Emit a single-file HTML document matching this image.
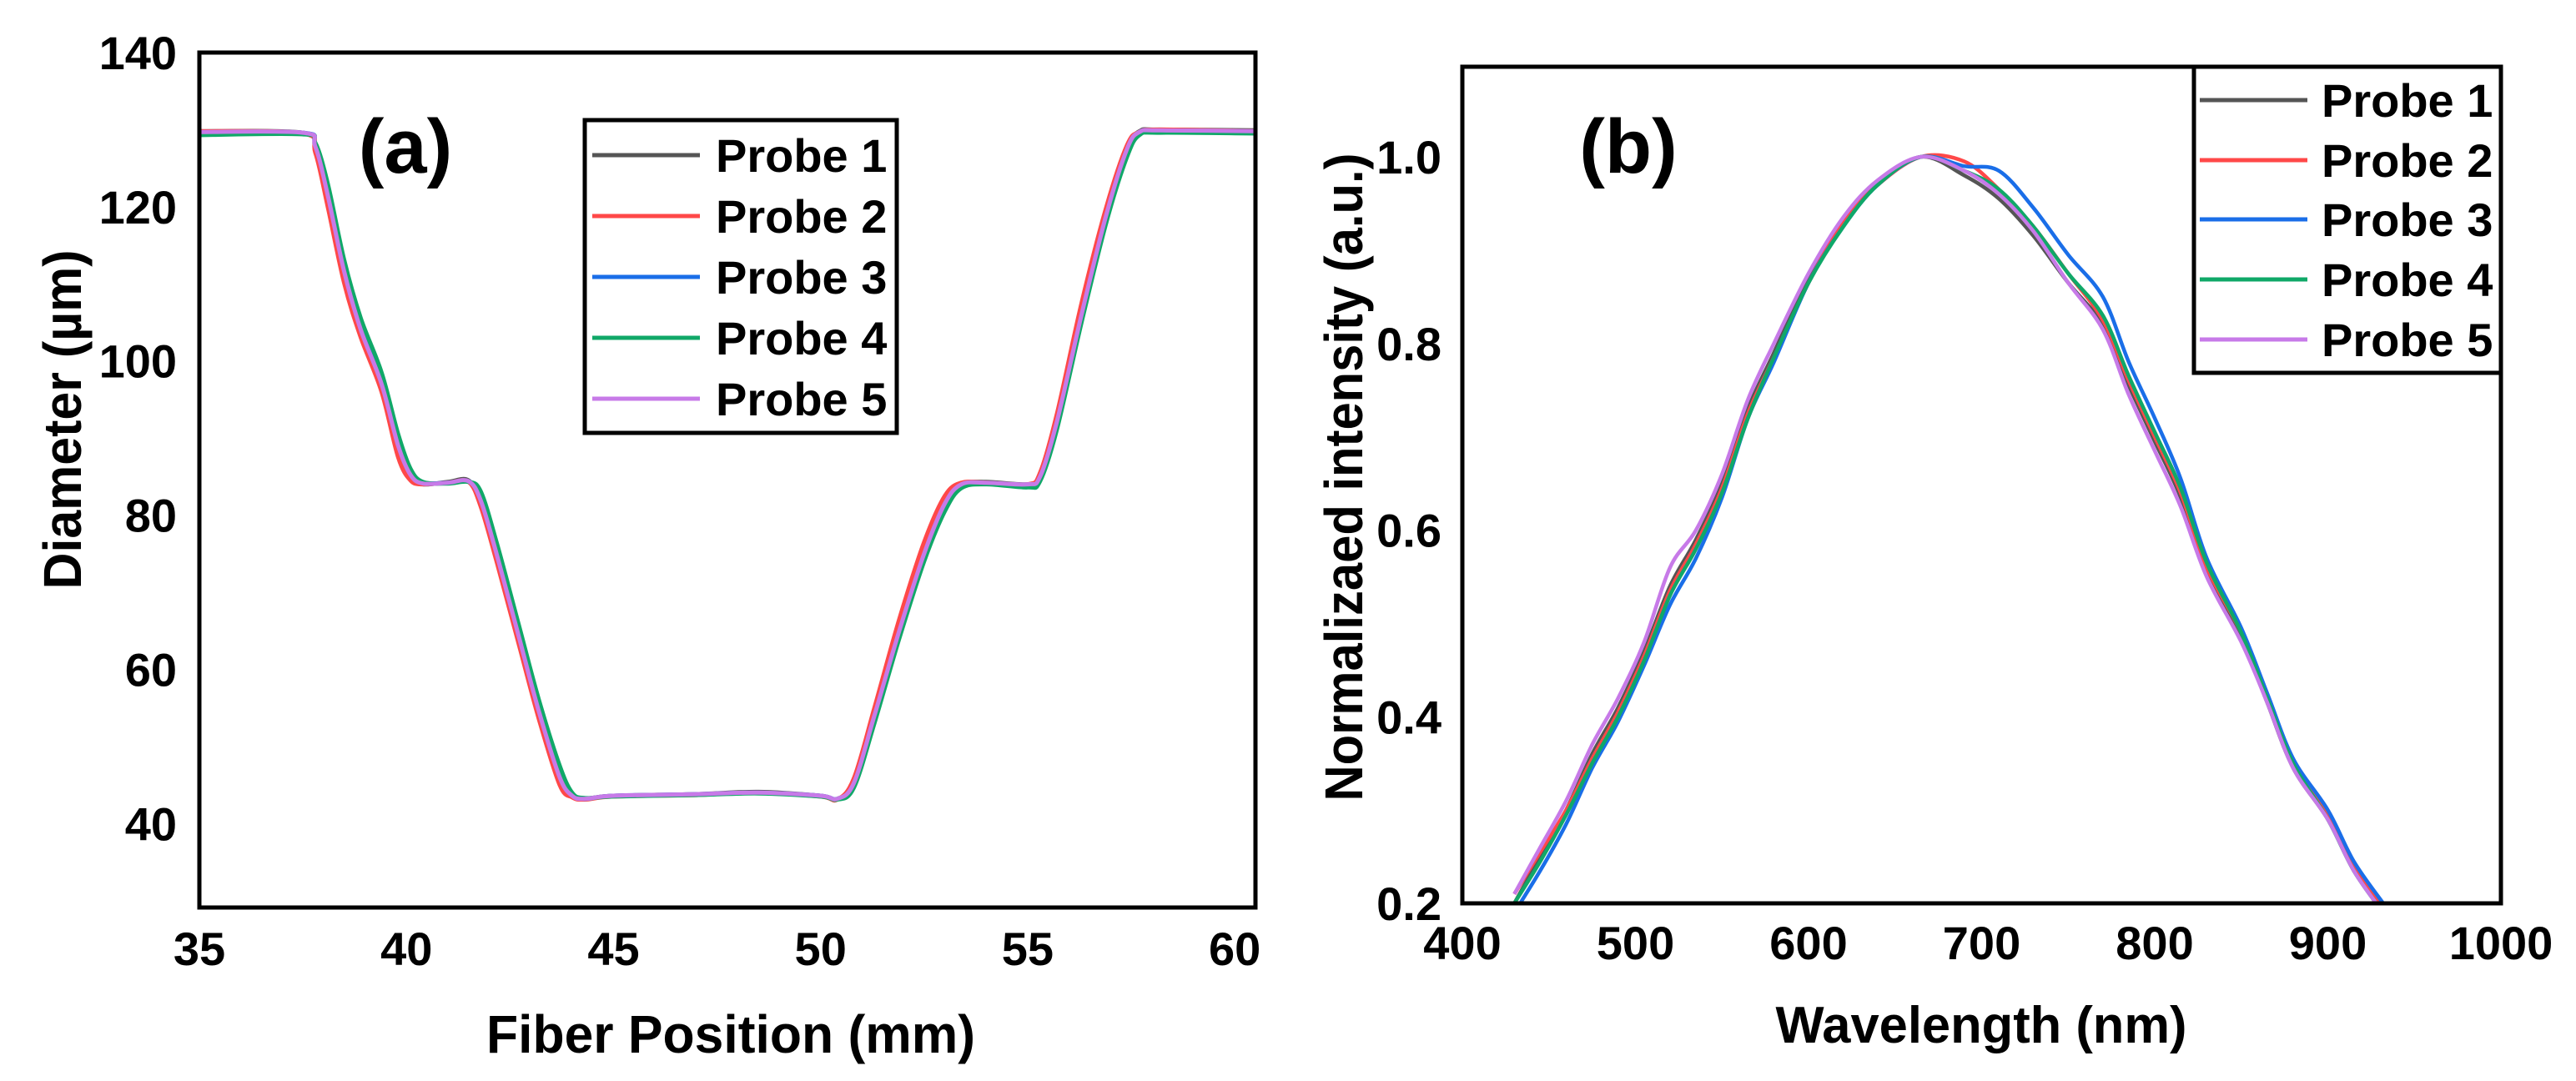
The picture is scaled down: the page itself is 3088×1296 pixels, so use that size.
<!DOCTYPE html>
<html><head><meta charset="utf-8">
<style>
html,body{margin:0;padding:0;background:#fff;}
svg{display:block;font-family:"Liberation Sans",Arial,sans-serif;font-weight:bold;}
</style></head>
<body>
<svg id="fig" width="3088" height="1296" viewBox="0 0 3088 1296" xmlns="http://www.w3.org/2000/svg">
<rect width="3088" height="1296" fill="#fff"/>
<g id="pa"></g>
<g id="pb"></g>
</svg>
<script>
// ---------- Panel (a) data ----------
const posA = [35,37.5,37.8,38.1,38.5,38.9,39.4,39.8,40.1,40.4,41.0,41.5,41.8,42.2,42.7,43.2,43.7,44.0,44.3,45,47,48.5,50,50.4,50.8,51.3,51.9,52.5,53.0,53.4,54,55.0,55.3,55.7,56.3,56.9,57.4,57.7,58.2,60.5];
const diamP1 = [129.8,129.6,127.5,121,111,103.5,96.5,88.5,85,84,84.3,84.5,81.5,74,64,54,45.5,43.5,43.2,43.6,43.8,44.1,43.6,43.2,45.3,54,65,75,81.5,84,84.3,84,85,92,106,119,127.5,129.8,130,129.9];
const diamP2 = [129.8,129.5,127,120,110,103,96,87.5,84.5,84,84.2,84.3,81,73.5,63.5,53.5,45,43.4,43.1,43.5,43.7,44,43.5,43.1,45.8,55,66.5,76.5,82.5,84.2,84.2,84,85.5,93,107.5,120,128,129.7,130,129.8];
const diamP3 = [129.6,129.6,128,122,112,104.5,97.5,89.5,85.5,84.2,84.2,84.4,82.5,75,65,55,46.5,43.8,43.2,43.6,43.8,44,43.6,43.2,45,53.5,64.5,74.5,81,83.8,84.1,83.8,84.6,91.5,105.5,118.5,127,129.5,129.8,129.6];
const diamP4 = [129.3,129.4,128.3,123,113,105.5,98.5,90.5,86,84.3,84.1,84.3,83,76,66,56,47.5,44,43.3,43.5,43.7,43.9,43.5,43.1,44.6,53,64,74,80.5,83.5,84,83.6,84.4,91,105,118,126.5,129.3,129.6,129.5];
const diamP5 = [129.7,129.6,127.8,121.5,111.5,104,97,89,85.2,84.1,84.2,84.4,81.8,74.5,64.5,54.5,46,43.6,43.2,43.6,43.8,44,43.6,43.2,45.2,54,65,75,81.5,84,84.2,84,85,92,106,119,127.5,129.7,129.9,129.8];
const xTicksA = [35,40,45,50,55,60];
const yTicksA = [40,60,80,100,120,140];

// ---------- Panel (b) data ----------
const wavelengths = [430,445,460,475,490,505,520,535,550,565,580,600,620,640,665,690,710,730,750,770,785,800,815,830,850,865,880,900,915,932];
const intP1 = [0.20,0.25,0.30,0.36,0.41,0.47,0.54,0.59,0.65,0.73,0.79,0.87,0.93,0.97,1.00,0.98,0.955,0.915,0.865,0.82,0.755,0.695,0.635,0.555,0.485,0.415,0.345,0.29,0.235,0.19];
const intP2 = [0.21,0.255,0.30,0.355,0.405,0.465,0.535,0.585,0.645,0.725,0.785,0.865,0.93,0.97,1.00,0.995,0.965,0.925,0.875,0.825,0.76,0.70,0.64,0.56,0.49,0.42,0.35,0.295,0.24,0.195];
const intP3 = [0.19,0.235,0.285,0.345,0.395,0.455,0.52,0.57,0.635,0.72,0.78,0.865,0.925,0.97,1.00,0.99,0.985,0.945,0.895,0.85,0.78,0.72,0.655,0.57,0.495,0.425,0.355,0.30,0.245,0.20];
const intP4 = [0.20,0.245,0.295,0.35,0.40,0.46,0.53,0.58,0.64,0.72,0.785,0.865,0.925,0.97,1.00,0.985,0.965,0.925,0.875,0.83,0.765,0.705,0.645,0.565,0.49,0.42,0.35,0.29,0.235,0.19];
const intP5 = [0.21,0.26,0.31,0.37,0.42,0.48,0.56,0.60,0.66,0.74,0.80,0.875,0.935,0.975,1.00,0.985,0.96,0.92,0.865,0.815,0.745,0.685,0.625,0.55,0.48,0.415,0.345,0.29,0.235,0.19];
const xTicksB = [400,500,600,700,800,900,1000];
const yTicksB = [0.2,0.4,0.6,0.8,1.0];

const probeNames = ["Probe 1","Probe 2","Probe 3","Probe 4","Probe 5"];
const probeColors = ["#555555","#ff4848","#1a6ee8","#10a868","#c77ae8"];

const NS = "http://www.w3.org/2000/svg";
function mk(parent, tag, attrs, text) {
  const e = document.createElementNS(NS, tag);
  for (const k in attrs) e.setAttribute(k, attrs[k]);
  if (text !== undefined) e.textContent = text;
  parent.appendChild(e);
  return e;
}
function smoothPath(pts) {
  let d = "M" + pts[0][0].toFixed(1) + "," + pts[0][1].toFixed(1);
  for (let i = 0; i < pts.length - 1; i++) {
    const p0 = pts[Math.max(i - 1, 0)], p1 = pts[i], p2 = pts[i + 1], p3 = pts[Math.min(i + 2, pts.length - 1)];
    const c1x = p1[0] + (p2[0] - p0[0]) / 6, c1y = p1[1] + (p2[1] - p0[1]) / 6;
    const c2x = p2[0] - (p3[0] - p1[0]) / 6, c2y = p2[1] - (p3[1] - p1[1]) / 6;
    d += " C" + c1x.toFixed(1) + "," + c1y.toFixed(1) + " " + c2x.toFixed(1) + "," + c2y.toFixed(1) + " " + p2[0].toFixed(1) + "," + p2[1].toFixed(1);
  }
  return d;
}

// ===== Panel A =====
(function () {
  const g = document.getElementById("pa");
  const L = 239, R = 1505, T = 63, B = 1088;
  const x0 = 35, x1 = 60.5, y0 = 29.1, y1 = 140;
  const sx = v => L + (v - x0) / (x1 - x0) * (R - L);
  const sy = v => B - (v - y0) / (y1 - y0) * (B - T);
  const cp = mk(g, "clipPath", { id: "clipA" });
  mk(cp, "rect", { x: L, y: T, width: R - L, height: B - T });
  const series = [diamP1, diamP2, diamP3, diamP4, diamP5];
  const lines = mk(g, "g", { "clip-path": "url(#clipA)" });
  
  
  series.forEach((arr, i) => {
    const pts = posA.map((p, j) => [sx(p), sy(arr[j])]);
    const p = mk(lines, "path", { d: smoothPath(pts), fill: "none", stroke: probeColors[i], "stroke-width": 5, "stroke-linejoin": "round" });
    
    
  });
  const frame = mk(g, "rect", { x: L, y: T, width: R - L, height: B - T, fill: "none", stroke: "#000", "stroke-width": 5 });
  
  
  xTicksA.forEach(v => {
    const t = mk(g, "text", { x: sx(v), y: 1157, "font-size": 56, "text-anchor": "middle" }, String(v));
    
    
  });
  yTicksA.forEach(v => {
    const t = mk(g, "text", { x: 212, y: sy(v) + 20, "font-size": 56, "text-anchor": "end" }, String(v));
    
    
  });
  const xt = mk(g, "text", { x: 876, y: 1262, "font-size": 64, "text-anchor": "middle", textLength: 586, lengthAdjust: "spacingAndGlyphs" }, "Fiber Position (mm)");
  
  
  const yt = mk(g, "text", { x: 0, y: 0, "font-size": 64, "text-anchor": "middle", textLength: 407, lengthAdjust: "spacingAndGlyphs", transform: "translate(97,503) rotate(-90)" }, "Diameter (µm)");
  
  
  const lab = mk(g, "text", { x: 486, y: 207, "font-size": 92, "text-anchor": "middle" }, "(a)");
  
  
  const leg = mk(g, "g", {});
  
  
  mk(leg, "rect", { x: 701, y: 144, width: 374, height: 375, fill: "#fff", stroke: "#000", "stroke-width": 5 });
  const ly = [186, 259, 332, 405, 478];
  probeNames.forEach((n, i) => {
    const e = mk(leg, "g", {});
    
    
    mk(e, "line", { x1: 710, x2: 839, y1: ly[i], y2: ly[i], stroke: probeColors[i], "stroke-width": 5 });
    mk(e, "text", { x: 858, y: ly[i] + 20, "font-size": 56 }, n);
  });
})();

// ===== Panel B =====
(function () {
  const g = document.getElementById("pb");
  const L = 1753, R = 2998, T = 80, B = 1083;
  const x0 = 400, x1 = 1000, y0 = 0.2, y1 = 1.0 + 108 / 1118.75;
  const sx = v => L + (v - x0) / (x1 - x0) * (R - L);
  const sy = v => B - (v - y0) / (y1 - y0) * (B - T);
  const cp = mk(g, "clipPath", { id: "clipB" });
  mk(cp, "rect", { x: L, y: T, width: R - L, height: B - T });
  const series = [intP1, intP2, intP3, intP4, intP5];
  const lines = mk(g, "g", { "clip-path": "url(#clipB)" });
  
  
  series.forEach((arr, i) => {
    const pts = wavelengths.map((w, j) => [sx(w), sy(arr[j])]);
    const p = mk(lines, "path", { d: smoothPath(pts), fill: "none", stroke: probeColors[i], "stroke-width": 4.5, "stroke-linejoin": "round" });
    
    
  });
  const frame = mk(g, "rect", { x: L, y: T, width: R - L, height: B - T, fill: "none", stroke: "#000", "stroke-width": 5 });
  
  
  xTicksB.forEach(v => {
    const t = mk(g, "text", { x: sx(v), y: 1150, "font-size": 56, "text-anchor": "middle" }, String(v));
    
    
  });
  yTicksB.forEach(v => {
    const t = mk(g, "text", { x: 1728, y: sy(v) + 20, "font-size": 56, "text-anchor": "end" }, v.toFixed(1));
    
    
  });
  const xt = mk(g, "text", { x: 2375, y: 1250, "font-size": 62, "text-anchor": "middle", textLength: 493, lengthAdjust: "spacingAndGlyphs" }, "Wavelength (nm)");
  
  
  const yt = mk(g, "text", { x: 0, y: 0, "font-size": 64, "text-anchor": "middle", textLength: 777, lengthAdjust: "spacingAndGlyphs", transform: "translate(1633,572) rotate(-90)" }, "Normalizaed intensity (a.u.)");
  
  
  const lab = mk(g, "text", { x: 1952, y: 207, "font-size": 92, "text-anchor": "middle" }, "(b)");
  
  
  const leg = mk(g, "g", {});
  
  
  mk(leg, "rect", { x: 2630, y: 80, width: 368, height: 367, fill: "#fff", stroke: "#000", "stroke-width": 5 });
  const ly = [120, 192, 263, 335, 407];
  probeNames.forEach((n, i) => {
    const e = mk(leg, "g", {});
    
    
    mk(e, "line", { x1: 2637, x2: 2766, y1: ly[i], y2: ly[i], stroke: probeColors[i], "stroke-width": 5 });
    mk(e, "text", { x: 2783, y: ly[i] + 20, "font-size": 56 }, n);
  });
})();
</script>
</body></html>
